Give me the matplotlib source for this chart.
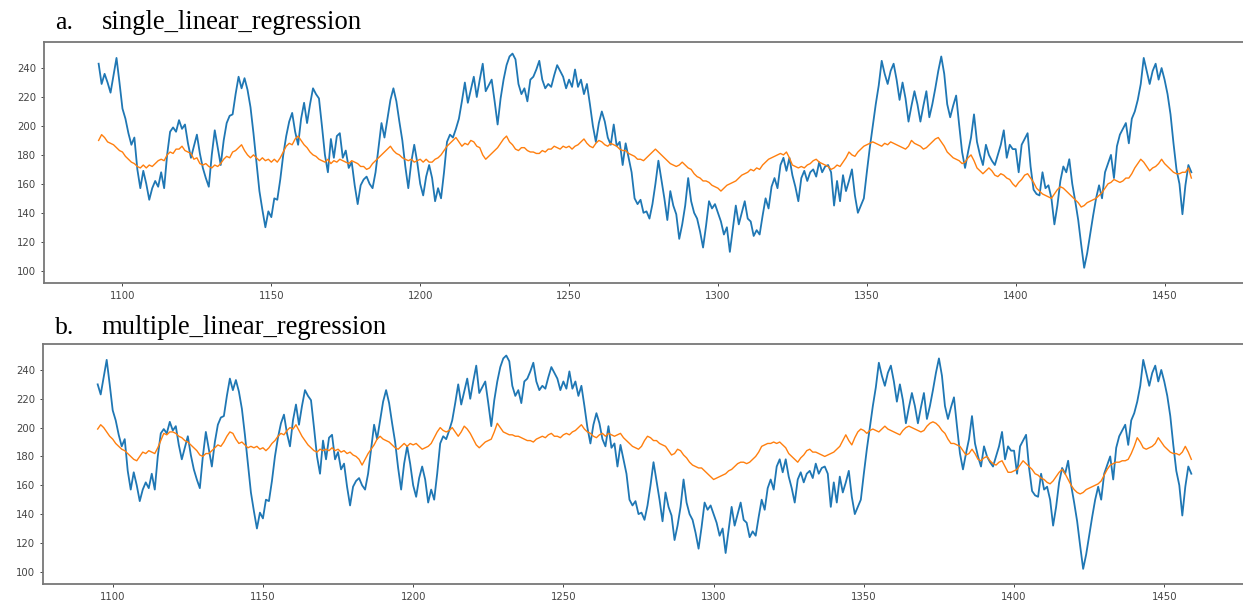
"""Actual vs. predicted series for the single and multiple linear regression models."""

import matplotlib

matplotlib.use("Agg")
import matplotlib.pyplot as plt  # noqa: E402
from matplotlib.ticker import MultipleLocator  # noqa: E402

START_A = 1092  # first index of the single-regression window
START_B = 1095  # multiple regression needs a few more lags

actual = [
    243, 229, 236, 230, 223, 235, 247, 230, 212, 205, 195, 187, 192, 170, 157, 169, 160, 149, 157, 162,
    158, 168, 157, 180, 196, 199, 196, 204, 198, 201, 188, 178, 186, 194, 181, 171, 164, 158, 180, 197,
    185, 173, 190, 202, 207, 208, 222, 234, 226, 233, 225, 213, 195, 175, 155, 142, 130, 141, 137, 150,
    149, 163, 180, 193, 203, 209, 196, 187, 205, 216, 202, 215, 226, 222, 219, 200, 180, 168, 191, 178,
    193, 195, 178, 183, 171, 175, 159, 146, 159, 163, 165, 160, 157, 168, 185, 202, 192, 205, 218, 226,
    217, 203, 190, 172, 157, 175, 187, 175, 160, 152, 165, 173, 164, 148, 157, 150, 168, 189, 194, 192,
    198, 205, 217, 230, 216, 225, 234, 220, 232, 243, 224, 228, 232, 217, 201, 219, 232, 242, 248, 250,
    246, 229, 222, 226, 217, 232, 234, 239, 245, 232, 226, 229, 227, 235, 242, 238, 234, 226, 232, 227,
    239, 227, 232, 222, 229, 215, 200, 189, 202, 210, 203, 192, 187, 201, 186, 189, 173, 188, 178, 168,
    150, 146, 149, 140, 141, 136, 146, 160, 176, 163, 150, 135, 155, 145, 139, 122, 132, 145, 164, 148,
    140, 136, 127, 116, 131, 148, 143, 146, 140, 134, 125, 130, 113, 129, 145, 132, 140, 148, 136, 134,
    124, 128, 125, 138, 150, 143, 158, 164, 157, 173, 178, 169, 178, 166, 158, 148, 164, 169, 162, 168,
    170, 165, 175, 168, 172, 173, 168, 145, 162, 148, 166, 155, 162, 170, 152, 140, 145, 150, 168, 185,
    200, 215, 228, 245, 236, 229, 238, 243, 232, 218, 230, 219, 203, 214, 224, 215, 203, 214, 224, 206,
    215, 226, 238, 248, 236, 215, 206, 214, 221, 201, 182, 171, 182, 192, 208, 189, 180, 173, 187, 180,
    176, 173, 180, 187, 197, 178, 187, 184, 184, 168, 187, 191, 195, 172, 156, 153, 152, 168, 157, 159,
    150, 132, 145, 162, 172, 168, 177, 160, 148, 135, 118, 102, 112, 125, 138, 150, 159, 150, 168, 174,
    180, 164, 186, 194, 198, 202, 188, 205, 210, 218, 229, 247, 238, 229, 238, 243, 232, 240, 232, 222,
    208, 188, 170, 160, 139, 159, 173, 168,
]

pred_single = [
    190, 194, 192, 189, 188, 187, 185, 183, 182, 179, 177, 175, 174, 172, 171, 173, 171, 173, 172, 174,
    176, 177, 176, 180, 182, 181, 184, 184, 186, 183, 182, 181, 177, 178, 174, 173, 174, 172, 171, 173,
    172, 174, 177, 179, 178, 182, 183, 185, 187, 183, 180, 178, 180, 178, 176, 178, 176, 177, 175, 177,
    175, 178, 182, 186, 188, 187, 191, 193, 190, 187, 185, 182, 180, 179, 177, 176, 175, 177, 174, 176,
    175, 177, 176, 175, 174, 176, 175, 174, 172, 172, 170, 171, 174, 176, 178, 180, 182, 184, 186, 183,
    181, 180, 178, 177, 176, 177, 175, 176, 177, 175, 177, 175, 175, 177, 178, 180, 183, 186, 188, 190,
    192, 189, 186, 188, 187, 190, 189, 186, 185, 180, 177, 179, 181, 183, 185, 188, 191, 193, 189, 187,
    184, 183, 185, 185, 183, 182, 182, 181, 181, 183, 182, 184, 184, 186, 185, 184, 186, 185, 186, 184,
    186, 187, 189, 191, 188, 186, 185, 188, 190, 189, 187, 186, 188, 187, 186, 184, 183, 183, 181, 180,
    179, 177, 177, 176, 178, 180, 182, 184, 182, 180, 178, 176, 174, 173, 172, 173, 175, 173, 171, 170,
    167, 165, 164, 162, 162, 161, 159, 158, 157, 155, 157, 159, 160, 161, 162, 164, 166, 167, 168, 170,
    169, 171, 170, 173, 175, 177, 178, 179, 180, 181, 180, 182, 178, 173, 172, 171, 172, 171, 173, 174,
    176, 177, 175, 174, 173, 172, 170, 171, 173, 172, 175, 178, 182, 180, 179, 182, 184, 186, 187, 188,
    189, 188, 187, 186, 188, 187, 189, 188, 187, 186, 185, 184, 186, 190, 188, 187, 186, 184, 185, 187,
    189, 191, 192, 189, 186, 182, 180, 178, 177, 176, 174, 175, 178, 180, 176, 171, 169, 167, 169, 171,
    169, 166, 165, 167, 166, 164, 163, 160, 158, 161, 163, 166, 167, 164, 161, 157, 155, 153, 152, 151,
    150, 153, 156, 158, 157, 155, 153, 151, 149, 147, 144, 145, 147, 148, 149, 150, 152, 154, 157, 160,
    161, 163, 162, 161, 162, 164, 164, 167, 171, 174, 177, 175, 172, 169, 171, 172, 174, 177, 174, 172,
    170, 168, 167, 167, 168, 168, 171, 164,
]

pred_multiple = [
    199, 202, 200, 197, 194, 192, 189, 187, 185, 184, 182, 180, 178, 177, 180, 183, 182, 184, 183, 182,
    186, 191, 196, 195, 197, 197, 196, 194, 193, 191, 190, 188, 186, 184, 181, 180, 182, 182, 184, 186,
    188, 187, 190, 194, 197, 196, 192, 189, 190, 188, 186, 187, 186, 187, 185, 186, 184, 186, 189, 191,
    194, 196, 195, 198, 200, 199, 202, 198, 194, 191, 188, 186, 184, 183, 185, 184, 185, 184, 186, 184,
    185, 183, 184, 182, 183, 181, 180, 178, 174, 178, 182, 185, 188, 192, 194, 192, 191, 190, 188, 186,
    185, 187, 189, 187, 189, 188, 189, 187, 185, 186, 187, 189, 193, 197, 200, 198, 197, 198, 200, 197,
    194, 197, 201, 199, 196, 192, 188, 186, 188, 190, 191, 192, 197, 203, 200, 197, 196, 195, 195, 194,
    194, 193, 192, 191, 191, 190, 192, 193, 194, 193, 195, 196, 194, 194, 193, 195, 196, 195, 197, 198,
    200, 202, 199, 197, 196, 194, 193, 195, 196, 194, 196, 195, 194, 195, 196, 193, 191, 189, 187, 186,
    185, 187, 191, 194, 193, 191, 191, 189, 188, 187, 184, 181, 182, 185, 184, 181, 179, 176, 174, 173,
    172, 172, 170, 168, 166, 164, 165, 166, 167, 168, 170, 171, 173, 175, 176, 176, 175, 176, 178, 180,
    183, 187, 188, 189, 189, 190, 189, 190, 188, 186, 182, 180, 178, 176, 179, 181, 184, 185, 183, 183,
    182, 181, 180, 181, 182, 183, 185, 187, 191, 195, 191, 188, 193, 197, 199, 198, 196, 198, 199, 198,
    197, 199, 201, 199, 198, 197, 196, 195, 198, 200, 201, 200, 199, 198, 197, 198, 201, 203, 204, 203,
    201, 198, 196, 192, 189, 189, 188, 187, 184, 181, 182, 185, 182, 178, 177, 179, 180, 177, 175, 174,
    176, 177, 173, 169, 169, 170, 171, 174, 177, 175, 173, 171, 168, 167, 165, 164, 162, 161, 163, 166,
    169, 171, 168, 164, 160, 157, 155, 154, 155, 157, 158, 159, 160, 161, 163, 167, 171, 174, 175, 176,
    176, 177, 177, 178, 182, 187, 193, 190, 186, 185, 186, 187, 189, 193, 190, 187, 185, 183, 182, 182,
    181, 183, 187, 183, 178,
]

W, H = 1243, 606


def px_box(left, top, right, bottom):
    """Pixel box -> figure-fraction [left, bottom, width, height]."""
    return [left / W, 1 - bottom / H, (right - left) / W, (bottom - top) / H]


def draw_panel(fig, box, days, truth, pred, label, caption_y):
    ax = fig.add_axes(box)
    ax.plot(days, truth, color="#1f77b4", lw=1.3)
    ax.plot(days, pred, color="#ff7f0e", lw=1.0)
    span = days[-1] - days[0]
    ax.set_xlim(days[0] - 0.05 * span, days[-1] + 0.05 * span)
    ax.set_ylim(91.5, 258)
    ax.xaxis.set_major_locator(MultipleLocator(50))
    ax.yaxis.set_major_locator(MultipleLocator(20))
    ax.tick_params(labelsize=7.3, length=2.5, width=0.7, colors="#444444", pad=3)
    for side in ax.spines.values():
        side.set_color("#777777")
        side.set_linewidth(1.3)

    letter, name = label
    fig.text(55 / W, 1 - caption_y / H, letter, family="Liberation Serif",
             fontsize=18.5, va="baseline")
    fig.text(101.5 / W, 1 - caption_y / H, name, family="Liberation Serif",
             fontsize=19.2, va="baseline")
    return ax


fig = plt.figure(figsize=(W / 100, H / 100), dpi=100)

days_a = list(range(START_A, START_A + len(actual)))
draw_panel(fig, px_box(44, 42, 1246, 283), days_a, actual, pred_single,
           ("a.", "single_linear_regression"), 29)

offset = START_B - START_A
days_b = days_a[offset:]
draw_panel(fig, px_box(43, 344, 1246, 584), days_b, actual[offset:], pred_multiple,
           ("b.", "multiple_linear_regression"), 333.5)

fig.savefig("out.png", dpi=100)
